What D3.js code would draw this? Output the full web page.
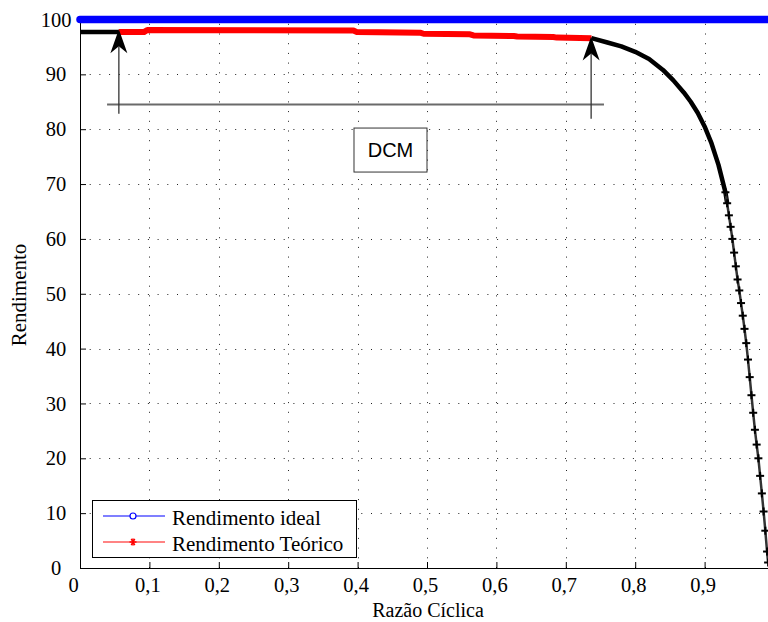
<!DOCTYPE html>
<html><head><meta charset="utf-8">
<script src="https://cdn.jsdelivr.net/npm/d3@7"></script>
<style>body{margin:0;background:#fff;overflow:hidden}svg{display:block}
.serif text, text.serif{font-family:'Liberation Serif','Times New Roman',serif !important;}
</style>
</head><body><svg id="c" width="768" height="622"></svg>
<script>
// ---- data ----
const xTicks = [0,0.1,0.2,0.3,0.4,0.5,0.6,0.7,0.8,0.9,1];
const xTickLabels = ["0","0,1","0,2","0,3","0,4","0,5","0,6","0,7","0,8","0,9","1"];
const yTicks = [0,10,20,30,40,50,60,70,80,90,100];
const yTickLabels = ["0","10","20","30","40","50","60","70","80","90","100"];

const idealX = [0,0.1,0.2,0.3,0.4,0.5,0.6,0.7,0.8,0.9,1];
const idealY = [100,100,100,100,100,100,100,100,100,100,100];

const redX = [0.056,0.092,0.097,0.394,0.399,0.490,0.495,0.562,0.567,0.625,0.630,0.682,0.687,0.737];
const redY = [97.7,97.7,98.1,98.0,97.7,97.6,97.4,97.3,97.1,97.0,96.9,96.8,96.7,96.6];

const blackX = [0,0.056,null,
  0.737,0.76,0.78,0.80,0.82,0.84,0.855,0.87,0.88,0.89,0.90,0.91,0.92,
  0.930,0.9325,0.935,0.9375,0.940,0.9425,0.945,0.9475,0.950,0.9525,0.955,0.9575,
  0.960,0.9625,0.965,0.9675,0.970,0.9725,0.975,0.9775,0.980,0.9825,0.985,0.9875,0.990,0.9915];
const blackY = [97.7,97.7,null,
  96.6,95.8,95.1,94.1,92.8,90.8,88.9,86.7,85.0,83.0,80.5,77.4,73.5,
  68.5,66.5,64.3,62.2,60.0,57.5,55.0,52.6,50.6,48.3,46.0,43.6,
  41.0,38.0,34.8,31.5,28.3,25.2,22.5,20.0,16.8,13.6,10.3,6.8,3.0,1.0];

const legendLabels = ["Rendimento ideal","Rendimento Teórico"];

// annotation (data units)
const arrowX = [0.056, 0.7365];
const arrowFrom = [82.8, 81.9];
const arrowTo = [98.2, 96.9];
const spanX = [0.039, 0.755];
const spanY = 84.5;
const boxText = "DCM";
const boxAt = [0.4474, 76.2];

// ---- layout ----
const svg = d3.select("#c");
const L = 80, T = 19.5, B = 568;
const x = d3.scaleLinear().domain([0,1]).range([L, L+694]);
const y = d3.scaleLinear().domain([0,100]).range([B, T]);
const serif = "'Liberation Serif','Times New Roman',serif";
const FS = 21;

// grid
const grid = svg.append("g").attr("stroke","#222").attr("stroke-width",1).attr("stroke-dasharray","1,8.7");
grid.selectAll("line.v").data(xTicks.filter(d=>d>0)).join("line")
  .attr("x1",d=>Math.round(x(d))+0.5).attr("x2",d=>Math.round(x(d))+0.5).attr("y1",B).attr("y2",T);
grid.selectAll("line.h").data(yTicks.filter(d=>d>0&&d<100)).join("line")
  .attr("y1",d=>Math.round(y(d))+0.5).attr("y2",d=>Math.round(y(d))+0.5).attr("x1",L).attr("x2",768);

// axes
const xAxis = d3.axisBottom(x).tickValues(xTicks).tickFormat((d,i)=>xTickLabels[i]).tickSizeInner(-6).tickSizeOuter(0).tickPadding(9);
const gx = svg.append("g").attr("class","serif").attr("transform",`translate(0,${B})`).call(xAxis);
const yAxis = d3.axisLeft(y).tickValues(yTicks).tickFormat((d,i)=>yTickLabels[i]).tickSizeInner(-6).tickSizeOuter(0).tickPadding(0);
const gy = svg.append("g").attr("class","serif").attr("transform",`translate(${L},0)`).call(yAxis);
[gx,gy].forEach(g=>{
  g.attr("font-family",serif).attr("font-size",20);
  g.selectAll("text").style("font-family",serif).style("font-size","20.5px").attr("fill","#000");
  g.selectAll("line,path").attr("stroke","#000");
});
gx.selectAll("text").attr("dy","0.72em").attr("dx",-2);
gx.selectAll(".tick").filter(d=>d===0).select("text").attr("dx",-7);
gy.selectAll("text").attr("text-anchor","middle").attr("x",-24);

// axis titles
svg.append("text").attr("class","serif").attr("x",428).attr("y",617).attr("text-anchor","middle")
  .style("font-family",serif).attr("font-size",20).text("Razão Cíclica");
svg.append("text").attr("class","serif").attr("transform","translate(26,295) rotate(-90)").attr("text-anchor","middle")
  .style("font-family",serif).attr("font-size",FS).text("Rendimento");

// series
const line = d3.line().defined((d)=>d[1]!==null).x(d=>x(d[0])).y(d=>y(d[1]));
const black = blackX.map((v,i)=>[v,blackY[i]]);
svg.append("path").datum(black.filter(d=>d[0]===null||d[0]<=0.9325)).attr("d",line).attr("fill","none").attr("stroke","#000")
  .attr("stroke-width",4.5).attr("stroke-linejoin","round");
svg.append("path").datum(black.filter(d=>d[0]!==null&&d[0]>=0.93)).attr("d",line).attr("fill","none").attr("stroke","#333")
  .attr("stroke-width",2.5).attr("stroke-linejoin","round");
const bm = svg.append("g").attr("stroke","#000").attr("stroke-width",2);
black.filter(d=>d[1]!==null && d[0]>0.925).forEach(d=>{
  const cx=x(d[0]), cy=y(d[1]);
  bm.append("line").attr("x1",cx-4).attr("x2",cx+4).attr("y1",cy).attr("y2",cy);
  bm.append("line").attr("x1",cx).attr("x2",cx).attr("y1",cy-4).attr("y2",cy+4);
});
const red = redX.map((v,i)=>[v,redY[i]]);
svg.append("path").datum(red).attr("d",line).attr("fill","none").attr("stroke","#ff0000")
  .attr("stroke-width",6).attr("stroke-linejoin","round");
const ideal = idealX.map((v,i)=>[v,idealY[i]]);
svg.append("path").datum(ideal).attr("d",line).attr("fill","none").attr("stroke","#0000ff")
  .attr("stroke-width",7.5).attr("stroke-linecap","round");

// annotations
const head = "M0,0 L8.5,24 L0,17 L-8.5,24 Z";
svg.append("line").attr("x1",x(spanX[0])).attr("x2",x(spanX[1])).attr("y1",y(spanY)).attr("y2",y(spanY))
  .attr("stroke","#6a6a6a").attr("stroke-width",2);
arrowX.forEach((ax,i)=>{
  svg.append("line").attr("x1",x(ax)).attr("x2",x(ax)).attr("y1",y(arrowFrom[i])).attr("y2",y(arrowTo[i])+17)
    .attr("stroke","#333").attr("stroke-width",1.3);
  svg.append("path").attr("d",head).attr("transform",`translate(${x(ax)},${y(arrowTo[i])})`).attr("fill","#000");
});
const bx = x(boxAt[0]), by = y(boxAt[1]);
svg.append("rect").attr("x",bx-36.5).attr("y",by-22).attr("width",73).attr("height",44)
  .attr("fill","#fff").attr("stroke","#333").attr("stroke-width",1);
svg.append("text").attr("x",bx).attr("y",by).attr("dy","0.36em").attr("text-anchor","middle")
  .attr("font-family","'Liberation Sans',Arial,sans-serif").attr("font-size",20).text(boxText);

// legend
const lg = svg.append("g").attr("class","serif");
lg.append("rect").attr("x",92.5).attr("y",500.5).attr("width",264).attr("height",57)
  .attr("fill","#fff").attr("stroke","#000").attr("stroke-width",1);
const ly = [516, 542];
lg.append("line").attr("x1",103).attr("x2",165).attr("y1",ly[0]).attr("y2",ly[0]).attr("stroke","#0000ff").attr("stroke-width",1.2);
lg.append("circle").attr("cx",133).attr("cy",ly[0]).attr("r",3).attr("fill","#fff").attr("stroke","#0000ff").attr("stroke-width",1.2);
lg.append("line").attr("x1",103).attr("x2",165).attr("y1",ly[1]).attr("y2",ly[1]).attr("stroke","#ff5a5a").attr("stroke-width",1.6);
const st = lg.append("g").attr("stroke","#ff0000").attr("stroke-width",1.5);
[0,60,120].forEach(a=>{
  const r=a*Math.PI/180;
  st.append("line").attr("x1",133-3.5*Math.cos(r)).attr("x2",133+3.5*Math.cos(r))
    .attr("y1",ly[1]-3.5*Math.sin(r)).attr("y2",ly[1]+3.5*Math.sin(r));
});
st.append("line").attr("x1",133).attr("x2",133).attr("y1",ly[1]-3.5).attr("y2",ly[1]+3.5);
legendLabels.forEach((t,i)=>{
  lg.append("text").attr("x",172).attr("y",ly[i]+8.5)
    .style("font-family",serif).attr("font-size",FS).text(t);
});
</script></body></html>
